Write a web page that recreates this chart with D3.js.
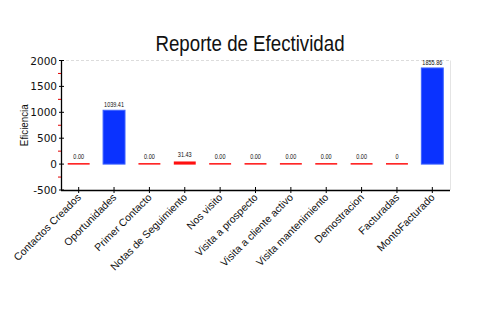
<!DOCTYPE html>
<html>
<head>
<meta charset="utf-8">
<script src="https://cdn.jsdelivr.net/npm/d3@7"></script>
<style>
  html, body { margin: 0; padding: 0; background: #fff; }
  svg { display: block; }
</style>
</head>
<body>
<svg id="chart" width="500" height="330"></svg>
<script>
// Efectividad por etapa del proceso comercial
const categories = [
  "Contactos Creados", "Oportunidades", "Primer Contacto", "Notas de Seguimiento",
  "Nos visito", "Visita a prospecto", "Visita a cliente activo", "Visita mantenimiento",
  "Demostracion", "Facturadas", "MontoFacturado"
];
const values = [0, 1039.41, 0, 31.43, 0, 0, 0, 0, 0, 0, 1855.86];
const valueLabels = ["0.00", "1039.41", "0.00", "31.43", "0.00", "0.00", "0.00", "0.00", "0.00", "0", "1855.86"];
const yTicks = [-500, 0, 500, 1000, 1500, 2000];
const yMinorTicks = [-250, 250, 750, 1250, 1750];

const svg = d3.select("#chart");
const plot = { left: 61, right: 450, top: 60.5, bottom: 190 };
const font = "'Liberation Sans', Arial, sans-serif";

const x = d3.scalePoint().domain(categories).range([plot.left, plot.right]).padding(0.5);
const barW = x.step() * 0.62;
const y = d3.scaleLinear().domain([-500, 2000]).range([plot.bottom, plot.top]);

const barColor = v => v >= 500 ? "#0a32ff" : "#ff1010";
const barStroke = v => v >= 500 ? "#3d63ff" : "#ff1010";

// Title (horizontally condensed)
svg.append("text")
  .attr("transform", "translate(250,51) scale(0.85,1)")
  .attr("text-anchor", "middle")
  .attr("font-family", font)
  .attr("font-size", 22)
  .attr("fill", "#111")
  .text("Reporte de Efectividad");

// Plot frame: dashed top, light right edge
svg.append("line")
  .attr("x1", plot.left).attr("x2", plot.right)
  .attr("y1", y(2000)).attr("y2", y(2000))
  .attr("stroke", "#dcdcdc").attr("stroke-dasharray", "3,2");
svg.append("line")
  .attr("x1", plot.right + 0.5).attr("x2", plot.right + 0.5)
  .attr("y1", plot.top).attr("y2", plot.bottom)
  .attr("stroke", "#e4e4e4");

// Bars
svg.append("g").selectAll("rect")
  .data(values)
  .join("rect")
  .attr("x", (d, i) => x(categories[i]) - barW / 2)
  .attr("width", barW)
  .attr("y", d => Math.min(y(d), y(0)) - (d < 500 ? 1 : 0))
  .attr("height", d => Math.max(Math.abs(y(0) - y(d)), 0) + (d < 500 ? 1.5 : 0))
  .attr("fill", d => barColor(d))
  .attr("stroke", d => d >= 500 ? barStroke(d) : "none")
  .attr("stroke-width", 1);

// Value labels
svg.append("g").selectAll("text")
  .data(values)
  .join("text")
  .attr("transform", (d, i) => `translate(${x(categories[i])},${y(d) - (d < 500 ? 5 : 3)}) scale(0.85,1)`)
  .attr("text-anchor", "middle")
  .attr("font-family", font)
  .attr("font-size", 6.5)
  .attr("fill", "#111")
  .text((d, i) => valueLabels[i]);

// Y axis
const yAxis = svg.append("g").attr("transform", `translate(${plot.left},0)`);
yAxis.append("line")
  .attr("x1", 0.5).attr("x2", 0.5)
  .attr("y1", y(2000)).attr("y2", y(-500))
  .attr("stroke", "#000").attr("stroke-width", 1.3);
yAxis.selectAll("line.major")
  .data(yTicks)
  .join("line").attr("class", "major")
  .attr("x1", -2).attr("x2", 3)
  .attr("y1", d => y(d)).attr("y2", d => y(d))
  .attr("stroke", "#000");
yAxis.selectAll("line.minor")
  .data(yMinorTicks)
  .join("line").attr("class", "minor")
  .attr("x1", -3).attr("x2", 0)
  .attr("y1", d => y(d)).attr("y2", d => y(d))
  .attr("stroke", "#e00000");
yAxis.selectAll("text")
  .data(yTicks)
  .join("text")
  .attr("x", -4).attr("y", d => y(d) + 4)
  .attr("text-anchor", "end")
  .attr("font-family", "'DejaVu Sans', sans-serif")
  .attr("font-size", 10.5)
  .attr("fill", "#111")
  .text(d => d);

// Y axis title
svg.append("text")
  .attr("transform", `translate(28,${(y(2000) + y(-500)) / 2}) rotate(-90) scale(0.85,1)`)
  .attr("text-anchor", "middle")
  .attr("font-family", font)
  .attr("font-size", 11.5)
  .attr("fill", "#111")
  .text("Eficiencia");

// X axis
const xAxis = svg.append("g").attr("transform", `translate(0,${plot.bottom})`);
xAxis.append("line")
  .attr("x1", plot.left).attr("x2", plot.right)
  .attr("y1", 0.5).attr("y2", 0.5)
  .attr("stroke", "#000").attr("stroke-width", 1.3);
xAxis.selectAll("line.tick")
  .data(categories)
  .join("line").attr("class", "tick")
  .attr("x1", d => x(d)).attr("x2", d => x(d))
  .attr("y1", -3).attr("y2", 3)
  .attr("stroke", "#000");
xAxis.selectAll("text")
  .data(categories)
  .join("text")
  .attr("transform", d => `translate(${x(d) + 3},${8}) rotate(-45)`)
  .attr("text-anchor", "end")
  .attr("font-family", font)
  .attr("font-size", 10.5)
  .attr("fill", "#111")
  .text(d => d);
</script>
</body>
</html>
